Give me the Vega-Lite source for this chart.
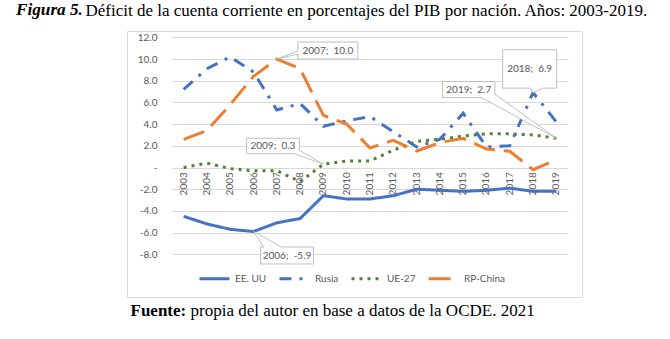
{
  "$schema": "https://vega.github.io/schema/vega-lite/v6.json",
  "autosize": {"type": "none"},
  "padding": {"left": 127, "top": 31, "right": 88, "bottom": 42},
  "width": 455,
  "height": 266,
  "background": "white",
  "title": {"text": "Figura 5.", "anchor": "start", "frame": "group", "dx": -111, "offset": -30.5, "baseline": "alphabetic", "font": "Liberation Serif", "fontSize": 17.2, "fontWeight": "bold", "fontStyle": "italic", "color": "black"},
  "datasets": {
    "series": [
      {"year": "2003", "serie": "EE. UU", "value": -4.5},
      {"year": "2004", "serie": "EE. UU", "value": -5.2},
      {"year": "2005", "serie": "EE. UU", "value": -5.7},
      {"year": "2006", "serie": "EE. UU", "value": -5.9},
      {"year": "2007", "serie": "EE. UU", "value": -5.1},
      {"year": "2008", "serie": "EE. UU", "value": -4.7},
      {"year": "2009", "serie": "EE. UU", "value": -2.6},
      {"year": "2010", "serie": "EE. UU", "value": -2.9},
      {"year": "2011", "serie": "EE. UU", "value": -2.9},
      {"year": "2012", "serie": "EE. UU", "value": -2.6},
      {"year": "2013", "serie": "EE. UU", "value": -2.0},
      {"year": "2014", "serie": "EE. UU", "value": -2.1},
      {"year": "2015", "serie": "EE. UU", "value": -2.2},
      {"year": "2016", "serie": "EE. UU", "value": -2.1},
      {"year": "2017", "serie": "EE. UU", "value": -1.9},
      {"year": "2018", "serie": "EE. UU", "value": -2.2},
      {"year": "2019", "serie": "EE. UU", "value": -2.2},
      {"year": "2003", "serie": "Rusia", "value": 7.2},
      {"year": "2004", "serie": "Rusia", "value": 9.1},
      {"year": "2005", "serie": "Rusia", "value": 10.2},
      {"year": "2006", "serie": "Rusia", "value": 8.8},
      {"year": "2007", "serie": "Rusia", "value": 5.3},
      {"year": "2008", "serie": "Rusia", "value": 5.9},
      {"year": "2009", "serie": "Rusia", "value": 3.8},
      {"year": "2010", "serie": "Rusia", "value": 4.3},
      {"year": "2011", "serie": "Rusia", "value": 4.7},
      {"year": "2012", "serie": "Rusia", "value": 3.3},
      {"year": "2013", "serie": "Rusia", "value": 1.9},
      {"year": "2014", "serie": "Rusia", "value": 2.6},
      {"year": "2015", "serie": "Rusia", "value": 5.0},
      {"year": "2016", "serie": "Rusia", "value": 1.9},
      {"year": "2017", "serie": "Rusia", "value": 2.0},
      {"year": "2018", "serie": "Rusia", "value": 6.9},
      {"year": "2019", "serie": "Rusia", "value": 4.2},
      {"year": "2003", "serie": "UE-27", "value": 0.0},
      {"year": "2004", "serie": "UE-27", "value": 0.4},
      {"year": "2005", "serie": "UE-27", "value": -0.1},
      {"year": "2006", "serie": "UE-27", "value": -0.3},
      {"year": "2007", "serie": "UE-27", "value": -0.3},
      {"year": "2008", "serie": "UE-27", "value": -1.3},
      {"year": "2009", "serie": "UE-27", "value": 0.3},
      {"year": "2010", "serie": "UE-27", "value": 0.6},
      {"year": "2011", "serie": "UE-27", "value": 0.6},
      {"year": "2012", "serie": "UE-27", "value": 1.6},
      {"year": "2013", "serie": "UE-27", "value": 2.4},
      {"year": "2014", "serie": "UE-27", "value": 2.6},
      {"year": "2015", "serie": "UE-27", "value": 2.9},
      {"year": "2016", "serie": "UE-27", "value": 3.1},
      {"year": "2017", "serie": "UE-27", "value": 3.1},
      {"year": "2018", "serie": "UE-27", "value": 3.0},
      {"year": "2019", "serie": "UE-27", "value": 2.7},
      {"year": "2003", "serie": "RP-China", "value": 2.6},
      {"year": "2004", "serie": "RP-China", "value": 3.4},
      {"year": "2005", "serie": "RP-China", "value": 5.8},
      {"year": "2006", "serie": "RP-China", "value": 8.4},
      {"year": "2007", "serie": "RP-China", "value": 10.0},
      {"year": "2008", "serie": "RP-China", "value": 9.1},
      {"year": "2009", "serie": "RP-China", "value": 4.8},
      {"year": "2010", "serie": "RP-China", "value": 4.0},
      {"year": "2011", "serie": "RP-China", "value": 1.8},
      {"year": "2012", "serie": "RP-China", "value": 2.5},
      {"year": "2013", "serie": "RP-China", "value": 1.5},
      {"year": "2014", "serie": "RP-China", "value": 2.3},
      {"year": "2015", "serie": "RP-China", "value": 2.7},
      {"year": "2016", "serie": "RP-China", "value": 1.7},
      {"year": "2017", "serie": "RP-China", "value": 1.5},
      {"year": "2018", "serie": "RP-China", "value": -0.2},
      {"year": "2019", "serie": "RP-China", "value": 0.7}
    ],
    "notes": [
      {"year": "2007", "value": 10.0, "label": "2007;\u00a0 10.0"},
      {"year": "2009", "value": 0.3, "label": "2009;\u00a0 0.3"},
      {"year": "2019", "value": 2.7, "label": "2019;\u00a0 2.7"},
      {"year": "2018", "value": 6.9, "label": "2018;\u00a0 6.9"},
      {"year": "2006", "value": -5.9, "label": "2006;\u00a0 -5.9"}
    ]
  },
  "layer": [
    {
      "data": {"name": "series"},
      "mark": {"type": "line", "strokeWidth": 3, "strokeCap": "butt"},
      "encoding": {
        "x": {
          "field": "year", "type": "ordinal",
          "scale": {"type": "band", "domain": ["2003","2004","2005","2006","2007","2008","2009","2010","2011","2012","2013","2014","2015","2016","2017","2018","2019"], "range": [45, 441], "paddingInner": 0, "paddingOuter": 0},
          "axis": {"orient": "bottom", "offset": -129.3, "labelAngle": -90, "labelPadding": 4, "ticks": false, "domain": false, "grid": false, "labelFont": "Lato", "labelFontSize": 10, "labelColor": "#595959",
            "title": "propia del autor en base a datos de la OCDE. 2021", "titleX": 63, "titleY": 148, "titleAlign": "left", "titleBaseline": "alphabetic", "titleAngle": 0, "titleFont": "Liberation Serif", "titleFontSize": 17, "titleFontWeight": "normal", "titleColor": "black"}
        },
        "y": {
          "field": "value", "type": "quantitative",
          "scale": {"domain": [-8, 12], "range": [223.3, 6.3], "nice": false, "zero": false},
          "axis": {"values": [-8,-6,-4,-2,0,2,4,6,8,10,12], "labelExpr": "datum.value == 0 ? '-' : (datum.value < 0 ? '-' : '') + format(abs(datum.value), '.1f')", "grid": true, "gridColor": "#d9d9d9", "gridWidth": 1, "domain": false, "ticks": false, "offset": -33, "labelPadding": 3, "labelFont": "Lato", "labelFontSize": 10, "labelColor": "#595959",
            "title": "Fuente:", "titleX": -30, "titleY": 284.7, "titleAngle": 0, "titleAlign": "left", "titleBaseline": "alphabetic", "titleFont": "Liberation Serif", "titleFontSize": 17, "titleFontWeight": "bold", "titleColor": "black"}
        },
        "color": {
          "field": "serie", "type": "nominal",
          "scale": {"domain": ["EE. UU", "Rusia", "UE-27", "RP-China"], "range": ["#4472C4", "#4472C4", "#548235", "#ED7D31"]},
          "legend": {"orient": "none", "legendX": 71, "legendY": 231, "direction": "horizontal", "title": null, "symbolType": "stroke", "symbolSize": 900, "symbolStrokeWidth": 3, "labelFont": "Lato", "labelFontSize": 10, "labelColor": "#595959", "labelOffset": 4, "columnPadding": 6, "padding": 0}
        },
        "strokeDash": {
          "field": "serie", "type": "nominal",
          "scale": {"domain": ["EE. UU", "Rusia", "UE-27", "RP-China"], "range": [[1, 0], [12, 8, 3, 8], [3, 5], [22, 9]]},
          "legend": {"orient": "none", "legendX": 71, "legendY": 231, "direction": "horizontal", "title": null, "symbolType": "stroke", "symbolSize": 900, "symbolStrokeWidth": 3, "labelFont": "Lato", "labelFontSize": 10, "labelColor": "#595959", "labelOffset": 4, "columnPadding": 6, "padding": 0}
        }
      }
    },
    {
      "data": {"name": "notes"},
      "encoding": {
        "x": {
          "field": "year", "type": "ordinal",
          "scale": {"type": "band", "domain": ["2003","2004","2005","2006","2007","2008","2009","2010","2011","2012","2013","2014","2015","2016","2017","2018","2019"], "range": [45, 441], "paddingInner": 0, "paddingOuter": 0},
          "axis": {"orient": "top", "labels": false, "ticks": false, "domain": false, "grid": false,
            "title": "Déficit de la cuenta corriente en porcentajes del PIB por nación. Años: 2003-2019.", "titleX": -42, "titleY": -15.5, "titleAlign": "left", "titleBaseline": "alphabetic", "titleAngle": 0, "titleFont": "Liberation Serif", "titleFontSize": 17, "titleFontWeight": "normal", "titleColor": "black"}
        },
        "y": {
          "field": "value", "type": "quantitative",
          "scale": {"domain": [-8, 12], "range": [223.3, 6.3], "nice": false, "zero": false},
          "axis": null
        }
      },
      "layer": [
        {
          "transform": [{"filter": "datum.year == '2007'"}],
          "layer": [
            {"mark": {"type": "point", "shape": "M0,0L21,-8L21,-17L81,-17L81,0L21,0L21,-5Z", "size": 4, "filled": true, "fill": "white", "stroke": "#bfbfbf", "strokeWidth": 1, "opacity": 1}},
            {"mark": {"type": "text", "dx": 51, "dy": -8.5, "align": "center", "baseline": "middle", "font": "Lato", "fontSize": 10, "fill": "#595959"}, "encoding": {"text": {"field": "label"}}}
          ]
        },
        {
          "transform": [{"filter": "datum.year == '2009'"}],
          "layer": [
            {"mark": {"type": "point", "shape": "M0,0L-24,-14L-24,-26L-77,-26L-77,-10.5L-29,-10.5Z", "size": 4, "filled": true, "fill": "white", "stroke": "#bfbfbf", "strokeWidth": 1, "opacity": 1}},
            {"mark": {"type": "text", "dx": -50.5, "dy": -18.3, "align": "center", "baseline": "middle", "font": "Lato", "fontSize": 10, "fill": "#595959"}, "encoding": {"text": {"field": "label"}}}
          ]
        },
        {
          "transform": [{"filter": "datum.year == '2019'"}],
          "layer": [
            {"mark": {"type": "point", "shape": "M0,0L-61.5,-44L-61.5,-56.7L-113.7,-56.7L-113.7,-40.7L-75,-40.7Z", "size": 4, "filled": true, "fill": "white", "stroke": "#bfbfbf", "strokeWidth": 1, "opacity": 1}},
            {"mark": {"type": "text", "dx": -87.6, "dy": -48.7, "align": "center", "baseline": "middle", "font": "Lato", "fontSize": 10, "fill": "#595959"}, "encoding": {"text": {"field": "label"}}}
          ]
        },
        {
          "transform": [{"filter": "datum.year == '2018'"}],
          "layer": [
            {"mark": {"type": "point", "shape": "M0,0L9.6,-4.5L23.6,-4.5L23.6,-42.8L-30.4,-42.8L-30.4,-4.5L-3,-4.5Z", "size": 4, "filled": true, "fill": "white", "stroke": "#bfbfbf", "strokeWidth": 1, "opacity": 1}},
            {"mark": {"type": "text", "dx": -3.4, "dy": -23.6, "align": "center", "baseline": "middle", "font": "Lato", "fontSize": 10, "fill": "#595959"}, "encoding": {"text": {"field": "label"}}}
          ]
        },
        {
          "transform": [{"filter": "datum.year == '2006'"}],
          "layer": [
            {"mark": {"type": "point", "shape": "M0,0L28,15.5L60,15.5L60,32.5L7,32.5L7,15.5L10,15.5Z", "size": 4, "filled": true, "fill": "white", "stroke": "#bfbfbf", "strokeWidth": 1, "opacity": 1}},
            {"mark": {"type": "text", "dx": 33.5, "dy": 24, "align": "center", "baseline": "middle", "font": "Lato", "fontSize": 10, "fill": "#595959"}, "encoding": {"text": {"field": "label"}}}
          ]
        }
      ]
    }
  ],
  "resolve": {"scale": {"x": "independent", "y": "independent"}, "axis": {"x": "independent", "y": "independent"}},
  "config": {
    "view": {"stroke": "#d9d9d9", "strokeWidth": 1}
  }
}
